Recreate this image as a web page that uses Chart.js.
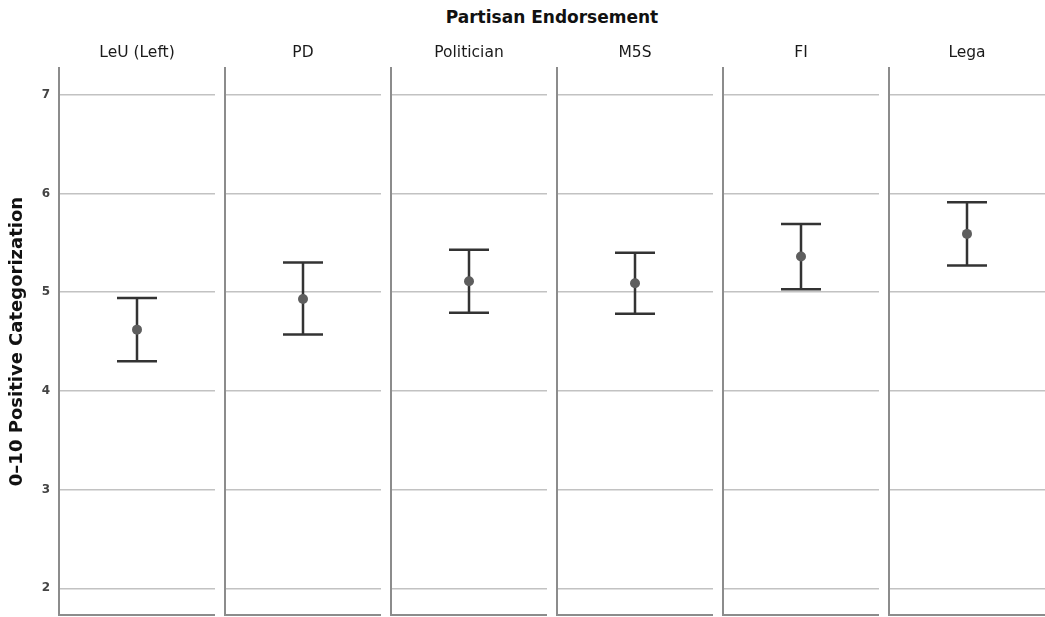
<!DOCTYPE html>
<html>
<head>
<meta charset="utf-8">
<script src="https://cdn.jsdelivr.net/npm/chart.js@4.4.1/dist/chart.umd.min.js"></script>
<style>
  html, body { margin: 0; padding: 0; background: #fff; overflow: hidden; }
  #wrap { position: relative; width: 1045px; height: 617px; }
  #wrap canvas { position: absolute; top: 0; }
  #title {
    position: absolute; left: 59px; width: 986px; top: 7px;
    text-align: center; font: bold 17px "DejaVu Sans", sans-serif; color: #111;
  }
</style>
</head>
<body>
<div id="wrap"><div id="title">Partisan Endorsement</div></div>
<script>
/* ===== DATA ===== */
const PANELS = ["LeU (Left)", "PD", "Politician", "M5S", "FI", "Lega"];
const MEANS = [4.62, 4.93, 5.11, 5.09, 5.36, 5.59];
const LOWER = [4.30, 4.57, 4.79, 4.78, 5.03, 5.27];
const UPPER = [4.94, 5.30, 5.43, 5.40, 5.69, 5.91];
const Y_TICKS = [2, 3, 4, 5, 6, 7];
const Y_MIN = 1.73;
const Y_MAX = 7.27;
const Y_TITLE = "0–10 Positive Categorization";

/* ===== LAYOUT ===== */
const FIRST_LEFT = 59;
const STEP = 166;
const PANEL_W = 156;
const AXIS_W = 4;
const FONT = '"DejaVu Sans", sans-serif';

/* ===== ERROR BARS ===== */
const errorBars = {
  id: "errorBars",
  beforeDatasetsDraw(chart, args, opts) {
    const { ctx, scales } = chart;
    const i = opts.index;
    const cx = scales.x.getPixelForValue(0);
    const lo = scales.y.getPixelForValue(LOWER[i]);
    const hi = scales.y.getPixelForValue(UPPER[i]);
    const half = opts.cap / 2;
    ctx.save();
    ctx.strokeStyle = opts.color;
    ctx.lineWidth = opts.width;
    ctx.beginPath();
    ctx.moveTo(cx, lo);
    ctx.lineTo(cx, hi);
    ctx.moveTo(cx - half, lo);
    ctx.lineTo(cx + half, lo);
    ctx.moveTo(cx - half, hi);
    ctx.lineTo(cx + half, hi);
    ctx.stroke();
    ctx.restore();
  },
};

/* ===== PANELS ===== */
const wrap = document.getElementById("wrap");

PANELS.forEach((name, i) => {
  const first = i === 0;
  const yw = first ? FIRST_LEFT : AXIS_W;

  const canvas = document.createElement("canvas");
  canvas.width = yw + PANEL_W;
  canvas.height = 617;
  canvas.style.left = FIRST_LEFT + STEP * i - yw + "px";
  wrap.appendChild(canvas);

  new Chart(canvas, {
    type: "line",
    data: {
      labels: [name],
      datasets: [
        {
          data: [MEANS[i]],
          showLine: false,
          pointRadius: 5,
          pointHoverRadius: 5,
          pointBackgroundColor: "#5e5e5e",
          pointBorderWidth: 0,
        },
      ],
    },
    options: {
      responsive: false,
      animation: false,
      devicePixelRatio: 1,
      events: [],
      layout: { padding: 0, autoPadding: false },
      plugins: {
        legend: { display: false },
        tooltip: { enabled: false },
        errorBars: { index: i, color: "#333", width: 2.5, cap: 40 },
      },
      scales: {
        x: {
          type: "category",
          position: "top",
          offset: true,
          grid: { display: false },
          border: { display: false },
          ticks: { color: "#1a1a1a", font: { family: FONT, size: 15.5 }, padding: -2 },
          afterFit: (s) => { s.height = 68; },
        },
        x2: {
          type: "category",
          position: "bottom",
          offset: true,
          grid: { display: false },
          border: { color: "#8c8c8c", width: 2 },
          ticks: { display: false },
          afterFit: (s) => { s.height = 2; },
        },
        y: {
          min: Y_MIN,
          max: Y_MAX,
          afterBuildTicks: (s) => { s.ticks = Y_TICKS.map((v) => ({ value: v })); },
          afterFit: (s) => {
            s.width = yw;
            s.paddingTop = 0;
            s.paddingBottom = 0;
          },
          grid: { color: "#c2c2c2", lineWidth: 1.5, drawTicks: false },
          border: { color: "#8c8c8c", width: 2 },
          ticks: {
            display: first,
            color: "#444",
            padding: 9,
            font: { family: FONT, size: 12, weight: "bold" },
          },
          title: {
            display: first,
            text: Y_TITLE,
            color: "#111",
            font: { family: FONT, size: 18, weight: "bold" },
            padding: { top: 7, bottom: 0 },
          },
        },
      },
    },
    plugins: [errorBars],
  });
});
</script>
</body>
</html>
